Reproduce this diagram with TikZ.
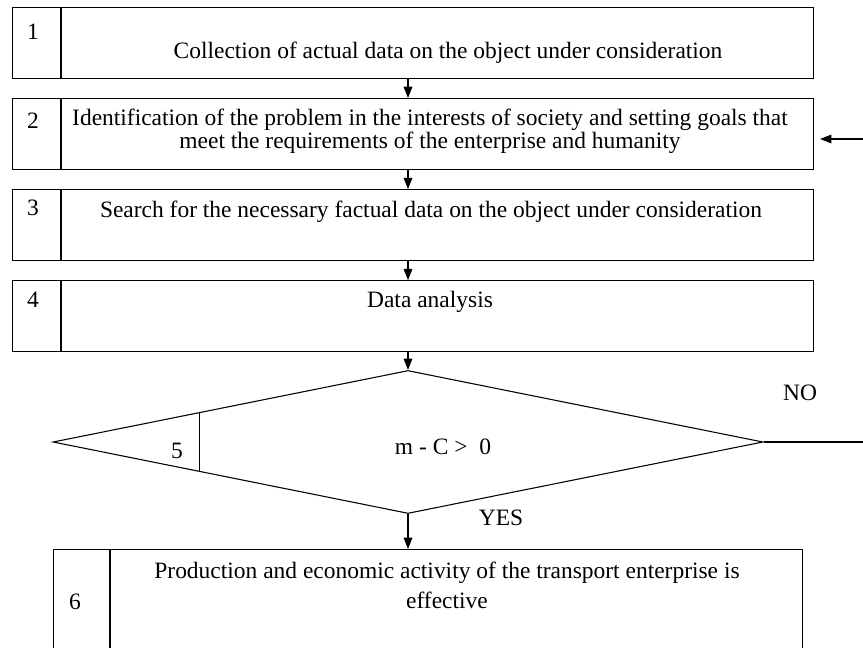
\documentclass[tikz,border=0pt]{standalone}
\usepackage{fontspec}
\setmainfont{Liberation Serif}
\usetikzlibrary{arrows.meta,positioning,shapes.geometric,calc}

\begin{document}
\begin{tikzpicture}[x=0.75pt,y=-0.75pt,
  font=\fontsize{17.6pt}{17.3pt}\selectfont,
  bx/.style={draw,line width=0.8pt,minimum width=600.75pt,minimum height=53.25pt,inner sep=0pt},
  dia/.style={draw,diamond,line width=0.8pt,minimum width=532.5pt,minimum height=107.25pt,inner sep=0pt},
  num/.style={inner sep=0pt},
  txt/.style={inner sep=0pt,align=center},
  arr/.style={-{Triangle[length=8.5pt,width=6.5pt]},line width=0.8pt},
  node distance=14.25pt]
  \clip (0,0) rectangle (863,648);
  \node[bx,anchor=north west](b1) at (12,7){};
  \node[bx,below=of b1](b2){};
  \node[bx,below=of b2](b3){};
  \node[bx,below=of b3](b4){};
  \node[dia](d5) at (408,442){};
  \node[bx,anchor=north west,minimum width=561.75pt,minimum height=82.5pt](b6) at (53,549){};
  % number cells
  \foreach \b in {b1,b2,b3,b4}
    \draw[line width=0.8pt] ([xshift=36.75pt]\b.north west) -- ([xshift=36.75pt]\b.south west);
  \draw[line width=0.8pt] ([xshift=42.75pt]b6.north west) -- ([xshift=42.75pt]b6.south west);
  \draw[line width=0.8pt] ($(d5.west)!0.414!(d5.north)$) -- ($(d5.west)!0.414!(d5.south)$);
  \node[num](n1) at (33,32){1};
  \node[num](n2) at (33,121){2};
  \node[num](n3) at (33,208){3};
  \node[num](n4) at (33,300){4};
  \node[num](n5) at (177,451){5};
  \node[num](n6) at (75,602){6};
  % texts
  \node[txt](t1) at (448,53){Collection of actual data on the object under consideration};
  \node[txt](t2) at (430,131){Identification of the problem in the interests of society and setting goals that\\meet the requirements of the enterprise and humanity};
  \node[txt](t3) at (431,212){Search for the necessary factual data on the object under consideration};
  \node[txt](t4) at (430,302){Data analysis};
  \node[txt](t5) at (443,447){m - C >\ \ 0};
  \node[txt](t6) at (447,585){Production and economic activity of the transport enterprise is\\[5pt]effective};
  \node[txt](no) at (800,393){NO};
  \node[txt](yes) at (501,518){YES};
  % connectors
  \foreach \a/\b in {b1/b2,b2/b3,b3/b4}
    \draw[arr] (\a.south -| d5.north) -- (\b.north -| d5.north);
  \draw[arr] (b4.south -| d5.north) -- (d5.north);
  \draw[arr] (d5.south) -- (d5.south |- b6.north);
  \coordinate (noend) at (863,442);
  \draw[line width=0.8pt] (d5.east) -- (noend);
  \coordinate (back) at (863,139);
  \draw[arr,shorten >=4.5pt] (back) -- (back -| b2.east);
\end{tikzpicture}
\end{document}
